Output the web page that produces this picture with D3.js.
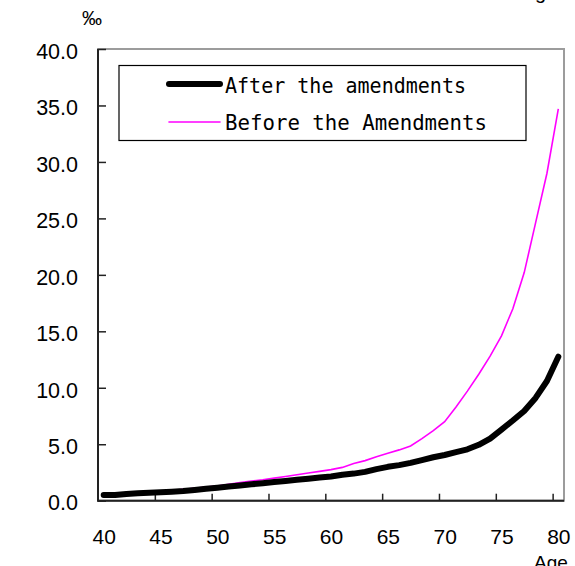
<!DOCTYPE html>
<html>
<head>
<meta charset="utf-8">
<script src="https://cdn.jsdelivr.net/npm/d3@7"></script>
<style>
  body { margin: 0; background: #fff; }
  svg { display: block; }
</style>
</head>
<body>
<svg id="chart" width="575" height="566"></svg>
<script>
var ages = d3.range(40, 81);
var afterAmend = [0.5, 0.5, 0.6, 0.65, 0.7, 0.75, 0.8, 0.85, 0.95, 1.05,
  1.15, 1.25, 1.35, 1.45, 1.55, 1.65, 1.75, 1.85, 1.95, 2.05,
  2.15, 2.3, 2.4, 2.55, 2.8, 3.0, 3.15, 3.35, 3.6, 3.85,
  4.05, 4.3, 4.55, 4.95, 5.5, 6.3, 7.1, 7.95, 9.1, 10.6, 12.75];
var beforeAmend = [0.4, 0.45, 0.55, 0.65, 0.75, 0.8, 0.9, 1.0, 1.1, 1.2,
  1.3, 1.45, 1.6, 1.75, 1.85, 2.0, 2.15, 2.3, 2.45, 2.6,
  2.75, 2.95, 3.3, 3.55, 3.9, 4.2, 4.5, 4.85, 5.5, 6.2,
  7.0, 8.3, 9.7, 11.2, 12.8, 14.6, 17.0, 20.2, 24.6, 29.0, 34.7];
var yTicks = [0, 5, 10, 15, 20, 25, 30, 35, 40];
var xLabels = [40, 45, 50, 55, 60, 65, 70, 75, 80];
var seriesNames = ["After the amendments", "Before the Amendments"];

(function () {
  var svg = d3.select("#chart");
  var plotLeft = 98, plotRight = 564, plotTop = 49, plotBottom = 500.7;
  var numFont = "'Liberation Sans', Arial, sans-serif";
  var legendFont = "'DejaVu Sans Mono', monospace";

  var x = d3.scaleLinear().domain([39.5, 80.5]).range([plotLeft, plotRight]);
  var y = d3.scaleLinear().domain([0, 40]).range([plotBottom, plotTop]);

  // plot frame (grey top/right)
  svg.append("rect")
    .attr("x", plotLeft).attr("y", plotTop)
    .attr("width", plotRight - plotLeft).attr("height", plotBottom - plotTop)
    .attr("fill", "none")
    .attr("stroke", "#9c9c9c")
    .attr("stroke-width", 2);

  // y axis
  var yAxis = svg.append("g")
    .attr("transform", "translate(" + plotLeft + ",0)")
    .call(d3.axisLeft(y).tickValues(yTicks).tickFormat(d3.format(".1f"))
      .tickSizeInner(-8).tickSizeOuter(0).tickPadding(20));
  yAxis.select(".domain").remove();
  yAxis.selectAll("line").attr("stroke", "#222").attr("stroke-width", 1.5);
  yAxis.selectAll("text")
    .attr("fill", "#000")
    .attr("dy", "0.43em")
    .style("font-family", numFont)
    .style("font-size", "21.5px");

  // x axis tick marks between categories
  var xTickAxis = svg.append("g")
    .attr("transform", "translate(0," + plotBottom + ")")
    .call(d3.axisBottom(x).tickValues(xLabels.slice(1).map(function (d) { return d - 0.5; }))
      .tickFormat("").tickSizeInner(-7).tickSizeOuter(0));
  xTickAxis.select(".domain").remove();
  xTickAxis.selectAll("line").attr("stroke", "#222").attr("stroke-width", 1.5);

  // x labels on category centres
  var xLabelAxis = svg.append("g")
    .attr("transform", "translate(0," + plotBottom + ")")
    .call(d3.axisBottom(x).tickValues(xLabels).tickSize(0).tickPadding(28));
  xLabelAxis.select(".domain").remove();
  xLabelAxis.selectAll("text")
    .attr("fill", "#000")
    .style("font-family", numFont)
    .style("font-size", "21px");

  // axis lines
  svg.append("line")
    .attr("x1", plotLeft).attr("x2", plotLeft).attr("y1", plotTop).attr("y2", plotBottom)
    .attr("stroke", "#222").attr("stroke-width", 2);
  svg.append("line")
    .attr("x1", plotLeft - 1).attr("x2", plotRight).attr("y1", plotBottom).attr("y2", plotBottom)
    .attr("stroke", "#222").attr("stroke-width", 2);

  var line = d3.line()
    .x(function (d) { return x(d[0]); })
    .y(function (d) { return y(d[1]); });

  svg.append("path")
    .datum(ages.map(function (a, i) { return [a, beforeAmend[i]]; }))
    .attr("d", line)
    .attr("fill", "none")
    .attr("stroke", "#ff00ff")
    .attr("stroke-width", 1.6);

  svg.append("path")
    .datum(ages.map(function (a, i) { return [a, afterAmend[i]]; }))
    .attr("d", line)
    .attr("fill", "none")
    .attr("stroke", "#000")
    .attr("stroke-width", 6)
    .attr("stroke-linejoin", "round")
    .attr("stroke-linecap", "round");

  // legend
  var legend = svg.append("g");
  legend.append("rect")
    .attr("x", 119).attr("y", 65.5)
    .attr("width", 407).attr("height", 75)
    .attr("fill", "#fff")
    .attr("stroke", "#000")
    .attr("stroke-width", 1.2);
  var legendItems = [
    { name: seriesNames[0], color: "#000", width: 6, ly: 84, ty: 93, len: 241 },
    { name: seriesNames[1], color: "#ff00ff", width: 1.6, ly: 122, ty: 129.5, len: 262 }
  ];
  legendItems.forEach(function (it) {
    legend.append("line")
      .attr("x1", 169).attr("x2", 220)
      .attr("y1", it.ly).attr("y2", it.ly)
      .attr("stroke", it.color)
      .attr("stroke-width", it.width)
      .attr("stroke-linecap", "round");
    legend.append("text")
      .attr("x", 225).attr("y", it.ty)
      .attr("textLength", it.len)
      .attr("lengthAdjust", "spacingAndGlyphs")
      .style("font-family", legendFont)
      .style("font-size", "21px")
      .text(it.name);
  });

  // unit and axis title
  svg.append("text")
    .attr("x", 82).attr("y", 25)
    .style("font-family", numFont)
    .style("font-size", "20px")
    .text("‰");
  svg.append("text")
    .attr("x", 551).attr("y", 569)
    .attr("text-anchor", "middle")
    .style("font-family", numFont)
    .style("font-size", "19px")
    .text("Age");
  svg.append("text")
    .attr("x", 535).attr("y", -1)
    .style("font-family", numFont)
    .style("font-size", "20px")
    .text("g");
})();
</script>
</body>
</html>
